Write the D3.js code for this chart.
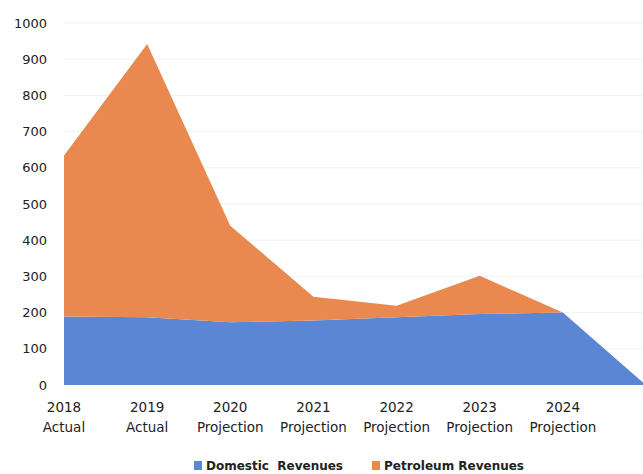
<!DOCTYPE html>
<html>
<head>
<meta charset="utf-8">
<script src="https://cdn.jsdelivr.net/npm/d3@7/dist/d3.min.js"></script>
<style>
  body { margin: 0; background: #fff; }
  svg { display: block; }
</style>
</head>
<body>
<svg id="chart"></svg>
<script>
var years = ['2018', '2019', '2020', '2021', '2022', '2023', '2024', ''];
var phases = ['Actual', 'Actual', 'Projection', 'Projection', 'Projection', 'Projection', 'Projection', ''];
var domestic = [189, 187, 173, 178, 187, 196, 200, 0];
var petroleum = [445, 755, 267, 66, 32, 106, 0, 0];
var yTicks = [0, 100, 200, 300, 400, 500, 600, 700, 800, 900, 1000];
var seriesNames = ['Domestic  Revenues', 'Petroleum Revenues'];
var colors = ['#5b86d4', '#e9884f'];

var width = 643, height = 474;
var font = 'DejaVu Sans, Verdana, sans-serif';

var svg = d3.select('#chart')
  .attr('width', width)
  .attr('height', height);

var rows = years.map((y, i) => ({ i: i, d: domestic[i], p: petroleum[i] }));

var xScale = d3.scalePoint()
  .domain(d3.range(years.length))
  .range([64, 646]);
var yScale = d3.scaleLinear()
  .domain([0, 1000])
  .range([385, 23]);

// faint gridlines
svg.append('g')
  .selectAll('line')
  .data(yTicks.slice(1))
  .enter()
  .append('line')
    .attr('x1', 64)
    .attr('x2', width)
    .attr('y1', d => yScale(d))
    .attr('y2', d => yScale(d))
    .attr('stroke', '#f2f2f2')
    .attr('stroke-width', 1);

var layers = d3.stack().keys(['d', 'p'])(rows);

var area = d3.area()
  .x(d => xScale(d.data.i))
  .y0(d => yScale(d[0]))
  .y1(d => yScale(d[1]));

svg.append('g')
  .selectAll('path')
  .data(layers)
  .enter()
  .append('path')
    .attr('d', area)
    .attr('fill', (d, i) => colors[i]);

// y axis labels
var yAxis = d3.axisLeft(yScale)
  .tickValues(yTicks)
  .tickFormat(d3.format('d'))
  .tickSize(0)
  .tickPadding(0);
var yg = svg.append('g')
  .attr('transform', 'translate(47,0)')
  .call(yAxis);
yg.select('.domain').remove();
yg.selectAll('text')
  .attr('fill', '#222')
  .style('font-family', font)
  .style('font-size', '13px');

// x axis labels, two lines
var xl = svg.append('g')
  .selectAll('text')
  .data(years)
  .enter()
  .append('text')
    .attr('x', (d, i) => xScale(i))
    .attr('y', 412)
    .attr('text-anchor', 'middle')
    .attr('fill', '#222')
    .style('font-family', font)
    .style('font-size', '13.5px');
xl.append('tspan')
  .attr('x', (d, i) => xScale(i))
  .text(d => d);
xl.append('tspan')
  .attr('x', (d, i) => xScale(i))
  .attr('dy', 20)
  .text((d, i) => phases[i]);

// legend
var legendX = [194, 372];
var lg = svg.append('g')
  .selectAll('g')
  .data(seriesNames)
  .enter()
  .append('g')
    .attr('transform', (d, i) => 'translate(' + legendX[i] + ',460)');
lg.append('rect')
  .attr('width', 8)
  .attr('height', 9)
  .attr('y', 1)
  .attr('fill', (d, i) => colors[i]);
lg.append('text')
  .attr('x', 12)
  .attr('y', 10)
  .attr('fill', '#222')
  .style('white-space', 'pre')
  .style('font-family', font)
  .style('font-size', '12px')
  .style('font-weight', 'bold')
  .text(d => d);
</script>
</body>
</html>
